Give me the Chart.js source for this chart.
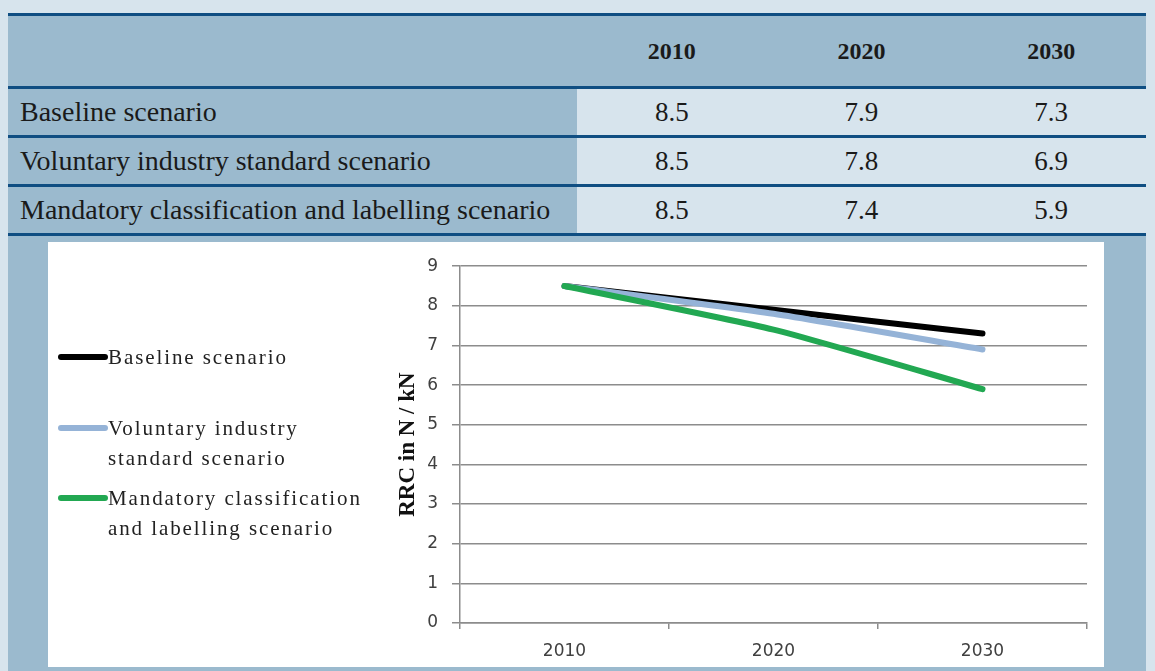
<!DOCTYPE html>
<html>
<head>
<meta charset="utf-8">
<script src="https://cdn.jsdelivr.net/npm/chart.js@4.4.1/dist/chart.umd.min.js"></script>
<style>
  html, body { margin: 0; padding: 0; }
  body { width: 1155px; height: 671px; background: #d7e4ed; position: relative; overflow: hidden;
         font-family: "Liberation Serif", serif; color: #1a1a1a; }
  .box { position: absolute; left: 8px; top: 13px; width: 1138px; height: 658px; background: #9bbace; }
  table { position: absolute; left: 8px; top: 13px; width: 1138px; border-collapse: collapse;
          border-top: 3px solid #0f4e82; table-layout: fixed; }
  tr { border-bottom: 3px solid #0f4e82; }
  th { height: 70px; font-size: 24px; font-weight: bold; text-align: center; padding: 0; }
  td { height: 46px; font-size: 28px; padding: 0; }
  td.lab { padding-left: 12px; white-space: nowrap; }
  td.val { background: #d7e4ed; text-align: center; font-size: 27px; }
  .panel { position: absolute; left: 48px; top: 242px; width: 1056px; height: 425px; background: #fff; }
  .legend { position: absolute; left: 0; top: 0; }
  .item { position: absolute; left: 60px; font-size: 21px; line-height: 30px; letter-spacing: 1.9px;
          color: #222; white-space: nowrap; }
  .item .sw { position: absolute; left: -50px; top: 12px; width: 50px; height: 6px; border-radius: 3px; }
  canvas { position: absolute; left: 0; top: 0; }
</style>
</head>
<body>
<div class="box"></div>
<table id="tbl"></table>
<div class="panel">
  <canvas id="chart" width="1056" height="425"></canvas>
  <div class="legend" id="legend"></div>
</div>
<script>
// ── data ─────────────────────────────────────────────
const years = ['2010', '2020', '2030'];
const scenarioNames = [
  'Baseline scenario',
  'Voluntary industry standard scenario',
  'Mandatory classification and labelling scenario'
];
const legendLines = [
  ['Baseline scenario'],
  ['Voluntary industry', 'standard scenario'],
  ['Mandatory classification', 'and labelling scenario']
];
const baseline  = [8.5, 7.9, 7.3];
const voluntary = [8.5, 7.8, 6.9];
const mandatory = [8.5, 7.4, 5.9];
const series = [baseline, voluntary, mandatory];
const colors = ['#000000', '#95b3d7', '#22a852'];
const yMin = 0, yMax = 9, yStep = 1;

// ── table ────────────────────────────────────────────
const tbl = document.getElementById('tbl');
let html = '<colgroup><col style="width:569px">' + years.map(() => '<col>').join('') + '</colgroup>';
html += '<tr><th></th>' + years.map(y => '<th>' + y + '</th>').join('') + '</tr>';
series.forEach((vals, i) => {
  html += '<tr><td class="lab">' + scenarioNames[i] + '</td>' +
    vals.map(v => '<td class="val">' + v.toFixed(1) + '</td>').join('') + '</tr>';
});
tbl.innerHTML = html;

// ── legend (left of the plot) ────────────────────────
const legendTops = [100, 171, 241];
const leg = document.getElementById('legend');
legendLines.forEach((lines, i) => {
  const d = document.createElement('div');
  d.className = 'item';
  d.style.top = legendTops[i] + 'px';
  d.innerHTML = '<span class="sw" style="background:' + colors[i] + '"></span>' + lines.join('<br>');
  leg.appendChild(d);
});

// ── chart ────────────────────────────────────────────
const gridColor = '#8c8c8c';
new Chart(document.getElementById('chart'), {
  type: 'line',
  data: {
    labels: years,
    datasets: series.map((data, i) => ({
      label: scenarioNames[i],
      data,
      borderColor: colors[i],
      backgroundColor: colors[i],
      borderWidth: 6,
      borderCapStyle: 'round',
      borderJoinStyle: 'round',
      pointRadius: 0,
      tension: 0.2,
      order: 2 - i
    }))
  },
  options: {
    responsive: false,
    animation: false,
    layout: { padding: { left: 340, right: 17, top: 19, bottom: 0 } },
    plugins: { legend: { display: false }, tooltip: { enabled: false } },
    scales: {
      x: {
        offset: true,
        grid: { offset: true, drawOnChartArea: false, color: gridColor, lineWidth: 1.5, tickLength: 6 },
        border: { color: gridColor, width: 1.5 },
        ticks: { font: { family: 'DejaVu Sans', size: 17 }, color: '#404040', padding: 12 },
        afterFit: s => { s.height = 44; }
      },
      y: {
        min: yMin, max: yMax,
        ticks: { stepSize: yStep, font: { family: 'DejaVu Sans', size: 17 }, color: '#404040', padding: 14 },
        grid: { color: gridColor, lineWidth: 1.5, tickLength: 8 },
        border: { color: gridColor, width: 1.5 },
        title: {
          display: true, text: 'RRC in N / kN', color: '#111',
          font: { family: 'Liberation Serif', size: 23, weight: 'bold' },
          padding: { top: 6, bottom: 0 }
        },
        afterFit: s => { s.width = 72; }
      }
    }
  }
});
</script>
</body>
</html>
